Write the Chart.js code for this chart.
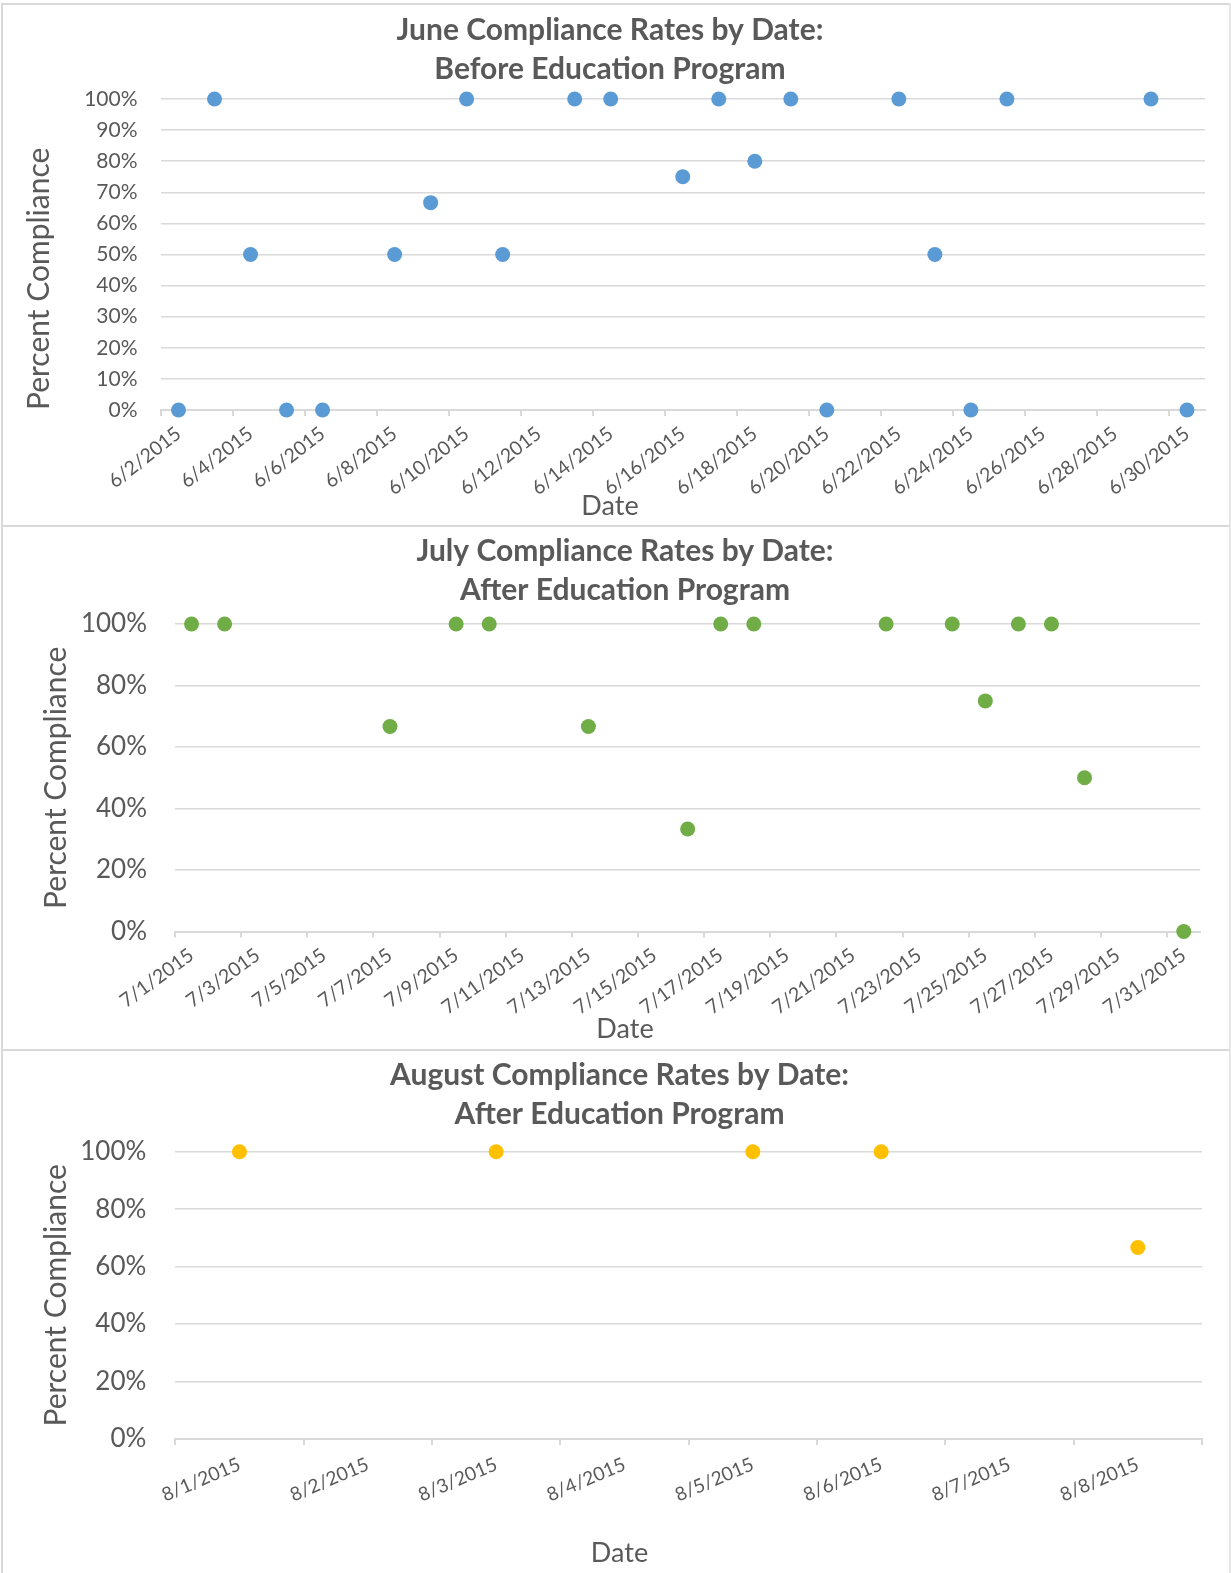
<!DOCTYPE html>
<html>
<head>
<meta charset="utf-8">
<title>Compliance Rates by Date</title>
<script src="https://cdn.jsdelivr.net/npm/chart.js@4.4.1/dist/chart.umd.min.js"></script>
<style>
  html, body { margin: 0; padding: 0; background: #ffffff; }
  body { width: 1231px; height: 1573px; position: relative; overflow: hidden; }
  canvas { position: absolute; left: 0; }
  .rule { position: absolute; background: #d9d9d9; z-index: 2; }
</style>
</head>
<body>
<canvas id="juneChart" width="1231" height="525" style="top:0px"></canvas>
<canvas id="julyChart" width="1231" height="522" style="top:527px"></canvas>
<canvas id="augustChart" width="1231" height="522" style="top:1051px"></canvas>

<!-- panel frames -->
<div class="rule" style="left:1px;top:3px;width:1230px;height:2px"></div>
<div class="rule" style="left:1px;top:525px;width:1230px;height:2px"></div>
<div class="rule" style="left:1px;top:1049px;width:1230px;height:2px"></div>
<div class="rule" style="left:1px;top:3px;width:2px;height:1570px"></div>
<div class="rule" style="left:1229px;top:3px;width:2px;height:1570px;background:#e6e6e6"></div>

<script>
// ---- June: before the education program ----
const juneLabels = [
  '6/2/2015', '6/3/2015', '6/4/2015', '6/5/2015', '6/6/2015', '6/7/2015', '6/8/2015',
  '6/9/2015', '6/10/2015', '6/11/2015', '6/12/2015', '6/13/2015', '6/14/2015', '6/15/2015',
  '6/16/2015', '6/17/2015', '6/18/2015', '6/19/2015', '6/20/2015', '6/21/2015', '6/22/2015',
  '6/23/2015', '6/24/2015', '6/25/2015', '6/26/2015', '6/27/2015', '6/28/2015', '6/29/2015',
  '6/30/2015'
];
const juneCompliance = [
  0, 100, 50, 0, 0, null, 50,
  66.67, 100, 50, null, 100, 100, null,
  75, 100, 80, 100, 0, null, 100,
  50, 0, 100, null, null, null, 100,
  0
];

// ---- July: after the education program ----
const julyLabels = [
  '7/1/2015', '7/2/2015', '7/3/2015', '7/4/2015', '7/5/2015', '7/6/2015', '7/7/2015',
  '7/8/2015', '7/9/2015', '7/10/2015', '7/11/2015', '7/12/2015', '7/13/2015', '7/14/2015',
  '7/15/2015', '7/16/2015', '7/17/2015', '7/18/2015', '7/19/2015', '7/20/2015', '7/21/2015',
  '7/22/2015', '7/23/2015', '7/24/2015', '7/25/2015', '7/26/2015', '7/27/2015', '7/28/2015',
  '7/29/2015', '7/30/2015', '7/31/2015'
];
const julyCompliance = [
  100, 100, null, null, null, null, 66.67,
  null, 100, 100, null, null, 66.67, null,
  null, 33.33, 100, 100, null, null, null,
  100, null, 100, 75, 100, 100, 50,
  null, null, 0
];

// ---- August: after the education program ----
const augustLabels = [
  '8/1/2015', '8/2/2015', '8/3/2015', '8/4/2015',
  '8/5/2015', '8/6/2015', '8/7/2015', '8/8/2015'
];
const augustCompliance = [100, null, 100, null, 100, 100, null, 66.67];

const juneTitle = ['June Compliance Rates by Date:', 'Before Education Program'];
const julyTitle = ['July Compliance Rates by Date:', 'After Education Program'];
const augustTitle = ['August Compliance Rates by Date:', 'After Education Program'];

const TEXT = '#595959';
const GRID = '#d9d9d9';
const FAMILY = 'Lato, "Open Sans", "DejaVu Sans", sans-serif';
Chart.defaults.font.family = FAMILY;
Chart.defaults.color = TEXT;

// Builds one panel: scatter of daily compliance on a date category axis.
function buildPanel(id, labels, values, title, color, g) {
  const canvas = document.getElementById(id);
  const W = canvas.width, H = canvas.height;

  const titleSize = 30, titleLH = 39;
  const dateSize = 27, dateLH = dateSize * 1.2;
  const yTitleSize = 30, yTitleLH = yTitleSize * 1.2;

  const padL = 2 * g.titleCenterX - g.right;
  const padR = W - g.right;
  const titlePadTop = g.title1Y - titleLH / 2;
  const titlePadBottom = g.top - g.title1Y - 1.5 * titleLH;
  // the "Date" caption box is kept thin so the rotated date labels above it keep their room
  const dateBox = 4;
  const datePadBottom = H - g.dateY - dateLH / 2;
  const datePadTop = dateBox - dateLH - datePadBottom;
  const xAxisHeight = H - dateBox - g.bottom;
  const yAxisWidth = g.left - padL;
  const yTitlePad = g.yTitleX - padL - yTitleLH / 2;

  return new Chart(canvas, {
    type: 'line',
    data: {
      labels: labels,
      datasets: [{
        label: 'Percent Compliance',
        data: values,
        showLine: false,
        clip: false,
        pointStyle: 'circle',
        pointRadius: 7.5,
        pointHoverRadius: 7.5,
        pointBackgroundColor: color,
        pointBorderColor: color,
        pointBorderWidth: 0
      }]
    },
    options: {
      responsive: false,
      animation: false,
      layout: { padding: { left: padL, right: padR, top: 0, bottom: 0 } },
      plugins: {
        legend: { display: false },
        tooltip: { enabled: false },
        title: {
          display: true,
          text: title,
          color: TEXT,
          font: { size: titleSize, weight: 'bold', lineHeight: titleLH / titleSize },
          padding: { top: titlePadTop, bottom: titlePadBottom }
        },
        subtitle: {
          display: true,
          position: 'bottom',
          text: 'Date',
          color: TEXT,
          font: { size: dateSize, weight: 'normal', lineHeight: 1.2 },
          padding: { top: datePadTop, bottom: datePadBottom }
        }
      },
      scales: {
        x: {
          type: 'category',
          offset: true,
          border: { display: true, color: GRID, width: 2 },
          grid: {
            offset: true,
            drawOnChartArea: false,
            drawTicks: true,
            tickLength: 6,
            lineWidth: 2,
            color: (ctx) => (ctx.index !== undefined && ctx.index % g.markEvery === 0) ||
                            (ctx.index === undefined && g.markEvery === 1) ? GRID : 'rgba(0,0,0,0)'
          },
          ticks: {
            autoSkip: false,
            minRotation: g.rotation,
            maxRotation: g.rotation,
            padding: g.xTickPad,
            color: TEXT,
            font: { size: g.xTickSize },
            callback: (value, index) => index % g.markEvery === 0 ? labels[index] : ''
          },
          afterFit: (scale) => { scale.height = xAxisHeight; }
        },
        y: {
          min: 0,
          max: 100,
          border: { display: false },
          grid: { color: GRID, lineWidth: 1.5, drawTicks: false },
          ticks: {
            stepSize: g.step,
            padding: g.yTickPad,
            color: TEXT,
            font: { size: g.yTickSize },
            callback: (v) => v + '%'
          },
          title: {
            display: true,
            text: 'Percent Compliance',
            align: g.yTitleAlign,
            color: TEXT,
            font: { size: yTitleSize, weight: 'normal', lineHeight: 1.2 },
            padding: { top: yTitlePad, bottom: 0 }
          },
          afterFit: (scale) => { scale.width = yAxisWidth; }
        }
      }
    }
  });
}

buildPanel('juneChart', juneLabels, juneCompliance, juneTitle, '#5b9bd5', {
  left: 160.5, right: 1205, top: 99, bottom: 410,
  title1Y: 30, titleCenterX: 610, dateY: 506.6,
  yTitleX: 39.5, yTitleAlign: 'start',
  yTickPad: 23, yTickSize: 21, xTickSize: 19.5, xTickPad: 6,
  rotation: 38, step: 10, markEvery: 2
});

buildPanel('julyChart', julyLabels, julyCompliance, julyTitle, '#70ad47', {
  left: 175, right: 1200.3, top: 97, bottom: 404.5,
  title1Y: 24.8, titleCenterX: 625, dateY: 502,
  yTitleX: 56.5, yTitleAlign: 'center',
  yTickPad: 28, yTickSize: 26, xTickSize: 19.5, xTickPad: 6,
  rotation: 36, step: 20, markEvery: 2
});

buildPanel('augustChart', augustLabels, augustCompliance, augustTitle, '#ffc000', {
  left: 175.3, right: 1202, top: 100.7, bottom: 388,
  title1Y: 24.5, titleCenterX: 619.5, dateY: 502,
  yTitleX: 56.7, yTitleAlign: 'center',
  yTickPad: 29, yTickSize: 26, xTickSize: 19, xTickPad: 8,
  rotation: 23, step: 20, markEvery: 1
});
</script>
</body>
</html>
